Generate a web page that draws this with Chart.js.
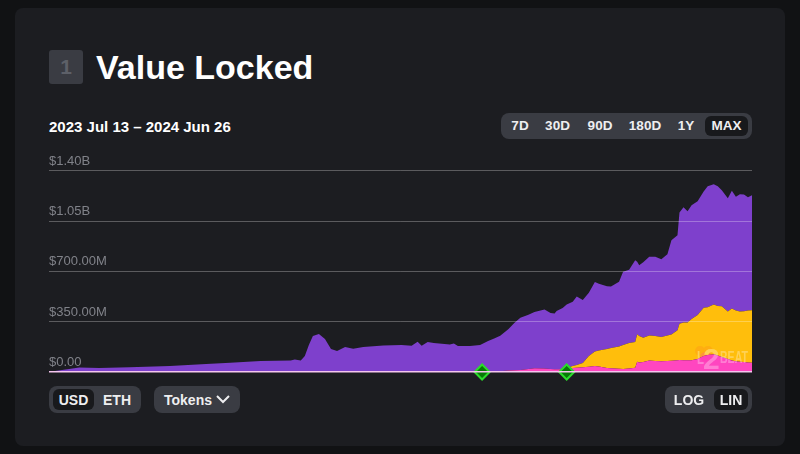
<!DOCTYPE html>
<html>
<head>
<meta charset="utf-8">
<script src="https://cdn.jsdelivr.net/npm/chart.js@4"></script>
<style>
  html, body { margin: 0; width: 800px; height: 454px; overflow: hidden; background: #111214; }
  body { position: relative; font-family: "Liberation Sans", sans-serif; color: #fff; }
  .abs { position: absolute; }
  #card { left: 15px; top: 8px; width: 770px; height: 438px; background: #1c1d21; border-radius: 8px; }
  #badge { left: 49px; top: 50px; width: 34px; height: 34px; line-height: 34px; background: #3a3c43; border-radius: 3px;
           text-align: center; color: #5d6068; font-size: 21px; font-weight: bold; }
  #title { left: 96px; top: 47px; font-size: 34px; line-height: 40px; font-weight: bold; white-space: nowrap; }
  #range { left: 49px; top: 117.5px; font-size: 15px; line-height: 17px; font-weight: bold; white-space: nowrap; }
  .group { background: #3a3c43; border-radius: 8px; }
  .active { background: #18191c; border-radius: 6px; }
  .btn { font-size: 13.5px; font-weight: bold; line-height: 16px; color: #eeeef0; transform: translateX(-50%); white-space: nowrap; }
  canvas { position: absolute; left: 49px; top: 150px; }
  #mark { left: 690px; top: 340px; width: 62px; height: 32px; opacity: .3; }
  #mark .dot { position: absolute; border-radius: 50%; }
  #mark .txt { position: absolute; color: #fff; font-weight: bold; white-space: nowrap; }
</style>
</head>
<body>
<div class="abs" id="card"></div>
<div class="abs" id="badge">1</div>
<div class="abs" id="title">Value Locked</div>
<div class="abs" id="range">2023 Jul 13 – 2024 Jun 26</div>

<div class="abs group" style="left:501px;top:113px;width:251px;height:26px"></div>
<div class="abs active" style="left:705px;top:116px;width:43px;height:20px"></div>
<div class="abs btn" style="left:520px;top:118px">7D</div>
<div class="abs btn" style="left:557.5px;top:118px">30D</div>
<div class="abs btn" style="left:600px;top:118px">90D</div>
<div class="abs btn" style="left:645px;top:118px">180D</div>
<div class="abs btn" style="left:686px;top:118px">1Y</div>
<div class="abs btn" style="left:726.5px;top:118px">MAX</div>

<canvas id="chart" width="703" height="235"></canvas>

<div class="abs" id="mark">
  <div class="dot" style="left:5px;top:6px;width:10px;height:10px;background:#ff8a1e"></div>
  <div class="dot" style="left:13px;top:6px;width:10px;height:10px;background:#ff8a1e"></div>
  <div class="dot" style="left:10px;top:12px;width:12px;height:10px;background:#ff2fa8"></div>
  <div class="txt" style="left:7px;top:8px;font-size:19px;line-height:20px;transform:scaleX(.6);transform-origin:left">L</div>
  <div class="txt" style="left:13px;top:3px;font-size:30px;line-height:32px">2</div>
  <div class="txt" style="left:30px;top:8px;font-size:17px;line-height:20px;transform:scaleX(.62);transform-origin:left">BEAT</div>
</div>

<div class="abs group" style="left:49px;top:386px;width:92px;height:27px"></div>
<div class="abs active" style="left:53px;top:389px;width:41px;height:21px"></div>
<div class="abs btn" style="left:73.5px;top:392px;font-size:14px">USD</div>
<div class="abs btn" style="left:117px;top:392px;font-size:14px">ETH</div>

<div class="abs group" style="left:154px;top:386px;width:86px;height:27px"></div>
<div class="abs btn" style="left:188px;top:392px;font-size:14px">Tokens</div>
<svg class="abs" style="left:215px;top:394px" width="16" height="11"><path d="M2 2 L8 8 L14 2" fill="none" stroke="#eeeef0" stroke-width="2"/></svg>

<div class="abs group" style="left:665px;top:386px;width:87px;height:27px"></div>
<div class="abs active" style="left:714px;top:389px;width:34px;height:21px"></div>
<div class="abs btn" style="left:689px;top:392px;font-size:14px">LOG</div>
<div class="abs btn" style="left:731px;top:392px;font-size:14px">LIN</div>

<script>
// ---------- Data (USD millions, days since 2023 Jul 13) ----------
const days = [0, 3, 10, 15, 25, 40, 60, 78, 90, 105, 120, 122, 125, 127, 129, 131, 134, 137, 140, 143, 147, 151, 156, 166, 175, 180, 183, 185, 188, 191, 199, 201, 203, 209, 214, 218, 221, 224, 228, 231, 234, 238, 241, 246, 249, 251, 252, 255, 257, 260, 262, 265, 268, 271, 273, 277, 279, 283, 285, 288, 291, 292, 293, 295, 298, 301, 304, 307, 309, 312, 313, 315, 317, 319, 322, 325, 327, 330, 332, 334, 337, 339, 341, 343, 345, 347, 349];

const pinkValues = [0, 0, 0, 0, 0, 0, 0, 0, 0, 0, 0, 0, 0, 0, 0, 0, 0, 0, 0, 0, 0, 0, 0, 0, 0, 0, 0, 0, 0, 0, 0, 0, 0, 0.5, 1, 2, 4, 5, 10, 12, 14, 21, 26, 24, 21, 19, 19, 19, 21, 28, 30, 33, 37, 42, 38, 28, 26, 22, 21, 24, 30, 71, 66, 69, 80, 76, 74, 76, 78, 81, 83, 82, 81, 81, 90, 111, 118, 123, 115, 104, 90, 80, 74, 72, 69, 66, 65];

const yellowValues = [0, 0, 0, 0, 0, 0, 0, 0, 0, 0, 0, 0, 0, 0, 0, 0, 0, 0, 0, 0, 0, 0, 0, 0, 0, 0, 0, 0, 0, 0, 0, 0, 0, 0, 0, 0, 0, 0, 0, 0, 0, 0, 0, 0, 0, 0, 0, 2, 7, 14, 19, 30, 74, 101, 111, 132, 141, 155, 167, 177, 178, 192, 184, 170, 174, 174, 170, 177, 182, 210, 253, 262, 264, 288, 306, 335, 333, 346, 344, 354, 330, 361, 353, 349, 354, 361, 364];

const purpleValues = [0, 7, 21, 31, 28, 33, 42, 56, 64, 76, 80, 87, 80, 111, 187, 250, 264, 229, 160, 146, 174, 162, 174, 185, 187, 183, 210, 183, 208, 201, 192, 199, 181, 180, 186, 213, 229, 247, 288, 328, 363, 377, 391, 411, 389, 387, 405, 424, 441, 447, 476, 437, 441, 483, 465, 437, 427, 451, 510, 510, 569, 503, 493, 524, 547, 551, 540, 566, 656, 660, 774, 802, 773, 790, 792, 810, 840, 837, 833, 806, 788, 819, 792, 816, 812, 788, 801];

const markerDays = [215, 257];
const markerValues = [0, 0];

const tickValues = [0, 350, 700, 1050, 1400];
const tickLabels = ["$0.00", "$350.00M", "$700.00M", "$1.05B", "$1.40B"];

// ---------- Chart ----------
function toPoints(xs, ys) {
  return xs.map((x, i) => ({ x: x, y: ys[i] }));
}

function areaSet(label, values, color, fill) {
  return {
    label: label,
    data: toPoints(days, values),
    backgroundColor: color,
    borderWidth: 0,
    pointRadius: 0,
    tension: 0,
    fill: fill,
  };
}

new Chart(document.getElementById("chart"), {
  type: "line",
  data: {
    datasets: [
      {
        label: "Milestones",
        data: toPoints(markerDays, markerValues),
        stack: "markers",
        showLine: false,
        pointStyle: "rectRot",
        pointRadius: 7.5,
        pointBackgroundColor: "#067a06",
        pointBorderColor: "#2bdc2b",
        pointBorderWidth: 2,
        clip: false,
        order: -1,
      },
      areaSet("Pink", pinkValues, "#ff46c0", "origin"),
      areaSet("Yellow", yellowValues, "#ffbe0c", "-1"),
      areaSet("Purple", purpleValues, "#7e40cc", "-1"),
    ],
  },
  options: {
    responsive: false,
    animation: false,
    layout: { autoPadding: false, padding: { top: 20.7, bottom: 13, left: 0, right: 0 } },
    plugins: { legend: { display: false }, tooltip: { enabled: false } },
    scales: {
      x: { type: "linear", display: false, min: 0, max: 349 },
      y: {
        stacked: true,
        min: 0,
        max: 1400,
        border: { display: false },
        afterBuildTicks: (axis) => { axis.ticks = tickValues.map((v) => ({ value: v })); },
        grid: {
          z: 1,
          drawTicks: false,
          lineWidth: (ctx) => (ctx.tick && ctx.tick.value === 0 ? 1.5 : 1),
          color: (ctx) => (ctx.tick && ctx.tick.value === 0 ? "#f4c6ee" : "rgba(255,255,255,0.28)"),
        },
        ticks: {
          mirror: true,
          padding: 0,
          labelOffset: -9.5,
          z: 2,
          color: "#808289",
          font: { family: "Liberation Sans", size: 13 },
          callback: (v) => tickLabels[tickValues.indexOf(v)],
        },
      },
    },
  },
});
</script>
</body>
</html>
